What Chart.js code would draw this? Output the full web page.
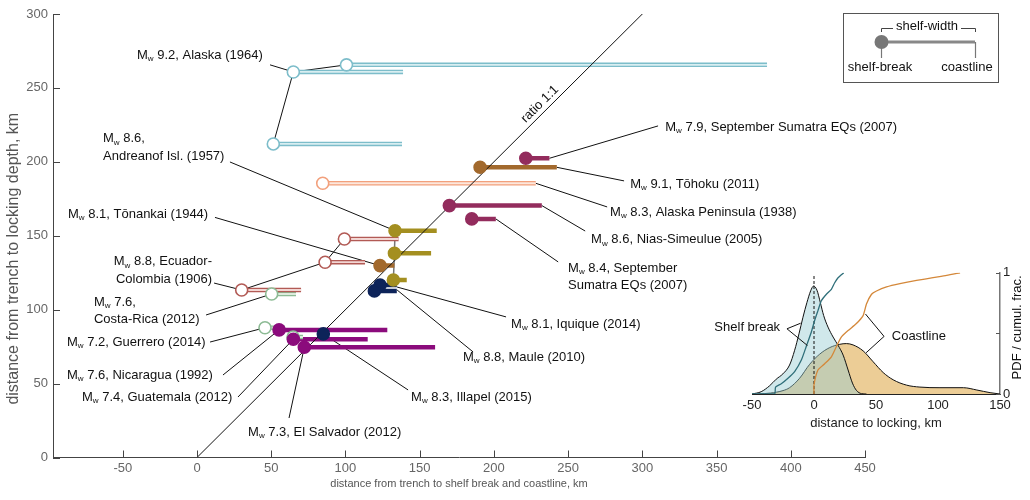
<!DOCTYPE html>
<html>
<head>
<meta charset="utf-8">
<script src="https://cdn.jsdelivr.net/npm/chart.js@4.4.1/dist/chart.umd.min.js"></script>
<style>
  html, body { margin: 0; padding: 0; background: #fff; }
  #wrap { position: relative; width: 1030px; height: 500px; }
  #main { position: absolute; left: 0; top: 0; }
  #inset { position: absolute; left: 690px; top: 262px; }
</style>
</head>
<body>
<div id="wrap">
  <canvas id="main" width="1030" height="500"></canvas>
  <canvas id="inset" width="340" height="175"></canvas>
</div>
<script>
const FONT = "'Liberation Sans', Arial, Helvetica, sans-serif";
Chart.defaults.font.family = FONT;

// ---- main panel: one entry per estimate (km from trench) ----
const quakeGroup = ["alaska", "alaska", "alaska", "akpen", "sumatra", "japan", "sumatra", "sumatra",
                    "aleut", "aleut", "aleut", "japan", "ecuador", "ecuador", "ecuador",
                    "camOpen", "camOpen", "camOpen", "chile", "chile", "cam", "chile", "cam", "cam"];
const shelfBreak = [100.7, 64.9, 51.4, 84.7, 221.5, 190.7, 170.0, 185.1,
                    133.4, 133.0, 132.3, 123.3, 99.3, 86.3, 30.1,
                    50.3, 45.8, 64.7, 123.3, 119.5, 55.3, 85.1, 64.9, 72.3];
const lockDepth  = [265.6, 260.8, 212.1, 185.5, 202.4, 196.3, 170.4, 161.4,
                    153.4, 138.2, 120.1, 129.8, 147.8, 132.1, 113.3,
                    110.6, 87.8, 81.5, 116.7, 112.7, 86.3, 83.6, 80.0, 74.6];
const coastline  = [384.0, 138.8, 138.1, 228.2, 237.4, 242.4, 232.3, 201.3,
                    161.5, 157.7, 141.3, 133.0, 135.8, 113.2, 70.1,
                    66.7, 59.3, 71.4, 134.6, 134.6, 128.2, 85.1, 115.0, 160.4];

// estimates of the same event joined by a thin line (indices into the arrays above)
const linkBlack = [[0, 1], [1, 2], [14, 13], [13, 12]];
const linkGray  = [[8, 9], [9, 10]];

const xTickValues = [-50, 0, 50, 100, 150, 200, 250, 300, 350, 400, 450];
const yTickValues = [0, 50, 100, 150, 200, 250, 300];
const ratioLine = [[0, 0], [320, 320]];
const yTitle = "distance from trench to locking depth, km";

const labelText = [
  "Mw 9.2, Alaska (1964)",
  "Mw 8.6,\nAndreanof Isl. (1957)",
  "Mw 8.1, Tōnankai (1944)",
  "Mw 8.8, Ecuador-\nColombia (1906)",
  "Mw 7.6,\nCosta-Rica (2012)",
  "Mw 7.2, Guerrero (2014)",
  "Mw 7.6, Nicaragua (1992)",
  "Mw 7.4, Guatemala (2012)",
  "Mw 7.3, El Salvador (2012)",
  "Mw 8.3, Illapel (2015)",
  "Mw 8.8, Maule (2010)",
  "Mw 8.1, Iquique (2014)",
  "Mw 8.4, September\nSumatra EQs (2007)",
  "Mw 8.6, Nias-Simeulue (2005)",
  "Mw 8.3, Alaska Peninsula (1938)",
  "Mw 9.1, Tōhoku (2011)",
  "Mw 7.9, September Sumatra EQs (2007)"
];
const labelX = [-40.4, -63.3, -86.9, 10.1, -69.4, -87.6, -87.6, -77.5, 34.4, 144.2, 179.2, 211.6, 250.0, 265.5, 278.3, 291.8, 315.4];
const labelY = [272.3, 215.5, 164.7, 132.3, 105.2, 78.1, 55.8, 40.9, 17.3, 40.9, 68.0, 90.3, 128.2, 147.2, 166.1, 185.0, 223.6];
const labelRight = [false, false, false, true, false, false, false, false, false, false, false, false, false, false, false, false, false];

// leader lines: from near the label to the estimate
const leaderFrom = [[49.2, 265.6], [22.2, 199.9], [12.1, 162.4], [11.5, 118.0], [6.1, 96.4], [8.8, 78.1],
                    [17.5, 55.8], [27.6, 40.9], [62.0, 26.7], [142.2, 45.7], [186.0, 71.4], [208.2, 95.1],
                    [310.6, 224.3], [287.7, 187.1], [276.3, 169.5], [261.5, 153.2], [243.3, 132.3]];
const leaderTo   = [[64.9, 260.8], [133.4, 153.4], [123.3, 129.8], [30.1, 113.3], [50.3, 110.6], [45.8, 87.8],
                    [55.3, 86.3], [64.9, 80.0], [72.3, 74.6], [85.1, 83.6], [134.8, 113.3], [134.8, 115.3],
                    [237.4, 202.4], [242.4, 196.3], [228.2, 185.5], [232.3, 170.4], [201.3, 161.4]];
const ratioLabel = { text: "ratio 1:1", x: 231, y: 239 };

// ---- inset: PDFs and cumulative fractions of distance to locking ----
const sbPdfX = [-50, -42.6, -35.8, -30.5, -25.1, -19.7, -15.6, -12.1, -8.9, -5.7, -2.7, -0.3, 2.4, 5.1, 7.8, 11.3, 15.4, 19.4, 23.5, 27.5, 31.0, 34.2, 38.3, 42.3];
const sbPdfY = [0, 0.019, 0.068, 0.122, 0.166, 0.239, 0.361, 0.497, 0.633, 0.755, 0.851, 0.891, 0.856, 0.755, 0.647, 0.552, 0.47, 0.402, 0.321, 0.198, 0.09, 0.03, 0.003, 0];
const coPdfX = [-45, -35, -25, -19.7, -11.6, -3.5, 4.6, 12.7, 20.8, 26.1, 31.5, 39.6, 47.7, 55.8, 63.9, 74.7, 85.4, 101.6, 120.5, 131.3, 142, 150];
const coPdfY = [0, 0.008, 0.028, 0.052, 0.13, 0.245, 0.329, 0.383, 0.41, 0.416, 0.405, 0.356, 0.266, 0.177, 0.117, 0.073, 0.057, 0.052, 0.052, 0.033, 0.011, 0];
const sbCumX = [-50, -31.8, -31, -26.4, -21, -15.6, -10.2, -6.2, -2.2, 0.5, 3.2, 5.9, 10, 14, 16.7, 19.4, 24];
const sbCumY = [0, 0, 0.057, 0.084, 0.13, 0.185, 0.28, 0.394, 0.51, 0.606, 0.688, 0.769, 0.823, 0.864, 0.918, 0.959, 1];
const coCumX = [0, 0, 3.2, 8.6, 14, 18, 22, 27.5, 34, 39.6, 42.3, 46.4, 50.4, 58.5, 69.3, 82.7, 96, 107, 117.8];
const coCumY = [0, 0.076, 0.198, 0.25, 0.307, 0.39, 0.47, 0.524, 0.579, 0.647, 0.742, 0.823, 0.85, 0.883, 0.91, 0.937, 0.96, 0.978, 1];
const zeroLine = [[0, 0], [0, 0.99]];
const insetXTicks = [-50, 0, 50, 100, 150];
const insetYTicks = [0, 0.5, 1];

const noteText = ["Shelf break", "Coastline"];
const noteX = [-24.9, 60.3];
const noteY = [0.549, 0.476];
const noteArms = [
  [[-21.8, 0.538, -10.8, 0.584], [-21.8, 0.538, -5.3, 0.40]],
  [[56.5, 0.475, 41.5, 0.66], [56.5, 0.475, 42.0, 0.34]]
];

// ---- styles ----
const groupStyle = {
  alaska:  { color: "#7dbdca", inner: "#d8eef1", hollow: true },
  akpen:   { color: "#f2a07c", inner: "#fde7dc", hollow: true },
  ecuador: { color: "#b25a55", inner: "#f2d6d3", hollow: true },
  camOpen: { color: "#8dbb95", inner: "#ddecdd", hollow: true },
  sumatra: { color: "#932c5d" },
  japan:   { color: "#a2692d" },
  aleut:   { color: "#a48f20" },
  chile:   { color: "#0d2359" },
  cam:     { color: "#8b0b7c" }
};

const pts = (xs, ys) => xs.map((x, i) => ({ x, y: ys[i] }));

function seg(ctx, x1, y1, x2, y2) {
  ctx.beginPath(); ctx.moveTo(x1, y1); ctx.lineTo(x2, y2); ctx.stroke();
}

// "Mw ..." with a subscript w
function drawMw(ctx, str, x, y, right) {
  const big = `13px ${FONT}`, small = `8px ${FONT}`;
  const parts = str.startsWith("Mw")
    ? [{ t: "M", f: big, dy: 0 }, { t: "w", f: small, dy: 4 }, { t: str.slice(2), f: big, dy: 0 }]
    : [{ t: str, f: big, dy: 0 }];
  let w = 0;
  parts.forEach(p => { ctx.font = p.f; p.w = ctx.measureText(p.t).width; w += p.w; });
  let cx = right ? x - w : x;
  parts.forEach(p => { ctx.font = p.f; ctx.fillText(p.t, cx, y + p.dy); cx += p.w; });
}

const quakeNotes = {
  id: "quakeNotes",
  beforeDatasetsDraw(chart) {
    const { ctx, scales: { x, y } } = chart;
    ctx.save();
    ctx.lineWidth = 1;
    ctx.strokeStyle = "#111";
    leaderFrom.forEach((a, i) => {
      const b = leaderTo[i];
      seg(ctx, x.getPixelForValue(a[0]), y.getPixelForValue(a[1]), x.getPixelForValue(b[0]), y.getPixelForValue(b[1]));
    });
    const link = (pair) => seg(ctx,
      x.getPixelForValue(shelfBreak[pair[0]]), y.getPixelForValue(lockDepth[pair[0]]),
      x.getPixelForValue(shelfBreak[pair[1]]), y.getPixelForValue(lockDepth[pair[1]]));
    linkBlack.forEach(link);
    ctx.strokeStyle = "#777";
    ctx.lineWidth = 1.5;
    linkGray.forEach(link);
    ctx.restore();
  },
  afterDatasetsDraw(chart) {
    const { ctx, scales: { x, y } } = chart;
    ctx.save();
    ctx.fillStyle = "#111";
    ctx.textAlign = "left";
    ctx.textBaseline = "middle";
    labelText.forEach((txt, i) => {
      const px = x.getPixelForValue(labelX[i]);
      const py = y.getPixelForValue(labelY[i]);
      txt.split("\n").forEach((line, k) => drawMw(ctx, line, px, py + k * 17.5, labelRight[i]));
    });
    // ratio 1:1 label along the diagonal
    const ang = Math.atan2(y.getPixelForValue(300) - y.getPixelForValue(0), x.getPixelForValue(300) - x.getPixelForValue(0));
    ctx.translate(x.getPixelForValue(ratioLabel.x), y.getPixelForValue(ratioLabel.y));
    ctx.rotate(ang);
    ctx.textAlign = "center";
    ctx.font = `13px ${FONT}`;
    ctx.fillText(ratioLabel.text, 0, 0);
    ctx.restore();
  },
  afterDraw(chart) {
    const { ctx, scales: { x, y } } = chart;
    ctx.save();
    // inward tick marks
    ctx.strokeStyle = "#444";
    ctx.lineWidth = 1;
    x.ticks.forEach(t => {
      const px = Math.round(x.getPixelForValue(t.value)) + 0.5;
      seg(ctx, px, x.top, px, x.top - 7);
    });
    y.ticks.forEach(t => {
      const py = Math.round(y.getPixelForValue(t.value)) + 0.5;
      seg(ctx, y.right, py, y.right + 7, py);
    });
    // y axis title, sitting a little below the axis centre as in the source figure
    ctx.save();
    ctx.fillStyle = "#555";
    ctx.font = `16px ${FONT}`;
    ctx.textAlign = "center";
    ctx.textBaseline = "middle";
    ctx.translate(y.left + 14, (y.top + y.bottom) / 2 + 23);
    ctx.rotate(-Math.PI / 2);
    ctx.fillText(yTitle, 0, 0);
    ctx.restore();
    // key box (top right)
    ctx.strokeStyle = "#555";
    ctx.strokeRect(843.5, 13.5, 155, 69);
    ctx.strokeStyle = "#888";
    ctx.lineWidth = 3;
    seg(ctx, 882, 42, 975, 42);
    ctx.strokeStyle = "#777";
    ctx.lineWidth = 1.2;
    seg(ctx, 881.5, 42, 881.5, 58);
    seg(ctx, 975.5, 42, 975.5, 58);
    ctx.strokeStyle = "#444";
    ctx.lineWidth = 1;
    seg(ctx, 881.5, 32, 881.5, 28.5); seg(ctx, 881.5, 28.5, 893, 28.5);
    seg(ctx, 961, 28.5, 975.5, 28.5); seg(ctx, 975.5, 28.5, 975.5, 32);
    ctx.fillStyle = "#777";
    ctx.beginPath(); ctx.arc(881.5, 42, 7, 0, 2 * Math.PI); ctx.fill();
    ctx.fillStyle = "#111";
    ctx.font = `13px ${FONT}`;
    ctx.textAlign = "center";
    ctx.textBaseline = "middle";
    ctx.fillText("shelf-width", 927, 26);
    ctx.fillText("shelf-break", 880, 67);
    ctx.fillText("coastline", 967, 67);
    ctx.restore();
  }
};

const datasets = [];
quakeGroup.forEach((g, i) => {
  const st = groupStyle[g];
  const bar = [{ x: shelfBreak[i], y: lockDepth[i] }, { x: coastline[i], y: lockDepth[i] }];
  datasets.push({ data: bar, showLine: true, borderColor: st.color, borderWidth: 4.5, borderCapStyle: "butt", pointRadius: 0, order: 40 });
  if (st.hollow) {
    datasets.push({ data: bar, showLine: true, borderColor: st.inner, borderWidth: 1.8, borderCapStyle: "butt", pointRadius: 0, order: 30 });
  }
});
datasets.push({
  data: ratioLine.map(p => ({ x: p[0], y: p[1] })), showLine: true,
  borderColor: "#111", borderWidth: 1, pointRadius: 0, order: 25
});
datasets.push({
  data: pts(shelfBreak, lockDepth),
  pointRadius: 6,
  pointBorderWidth: 1.6,
  pointBackgroundColor: quakeGroup.map(g => groupStyle[g].hollow ? "#fff" : groupStyle[g].color),
  pointBorderColor: quakeGroup.map(g => groupStyle[g].color),
  order: 20
});

new Chart(document.getElementById("main"), {
  type: "scatter",
  data: { datasets },
  options: {
    responsive: false,
    animation: false,
    events: [],
    layout: { padding: { top: 14, right: 165, left: 0, bottom: 0 } },
    plugins: { legend: { display: false }, tooltip: { enabled: false } },
    scales: {
      x: {
        type: "linear", min: -97, max: 450,
        afterBuildTicks: s => { s.ticks = xTickValues.map(v => ({ value: v })); },
        afterFit: s => { s.height = 42.5; },
        grid: { display: false, drawTicks: false },
        border: { display: true, color: "#444", width: 1 },
        ticks: { color: "#666", font: { size: 13 }, padding: 3, maxRotation: 0, autoSkip: false },
        title: { display: true, text: "distance from trench to shelf break and coastline, km", color: "#555", font: { size: 11 }, padding: { top: 0, bottom: 9.4 } }
      },
      y: {
        type: "linear", min: 0, max: 300,
        afterBuildTicks: s => { s.ticks = yTickValues.map(v => ({ value: v })); },
        afterFit: s => { s.width = 53; },
        grid: { display: false, drawTicks: false },
        border: { display: true, color: "#444", width: 1 },
        ticks: { color: "#666", font: { size: 13 }, padding: 5, autoSkip: false },
        title: { display: false }
      }
    }
  },
  plugins: [quakeNotes]
});

// ---- inset ----
const insetNotes = {
  id: "insetNotes",
  afterDatasetsDraw(chart) {
    const { ctx, scales: { x, y } } = chart;
    ctx.save();
    ctx.strokeStyle = "#111";
    ctx.lineWidth = 1;
    noteArms.forEach(arms => arms.forEach(a =>
      seg(ctx, x.getPixelForValue(a[0]), y.getPixelForValue(a[1]), x.getPixelForValue(a[2]), y.getPixelForValue(a[3]))));
    ctx.fillStyle = "#111";
    ctx.font = `13px ${FONT}`;
    ctx.textBaseline = "middle";
    noteText.forEach((t, i) => {
      ctx.textAlign = i === 0 ? "right" : "left";
      ctx.fillText(t, x.getPixelForValue(noteX[i]) - (i === 0 ? 3 : -3), y.getPixelForValue(noteY[i]));
    });
    ctx.restore();
  },
  afterDraw(chart) {
    const { ctx, scales: { x, y } } = chart;
    ctx.save();
    ctx.strokeStyle = "#555";
    ctx.lineWidth = 1;
    y.ticks.forEach(t => {
      const py = Math.round(y.getPixelForValue(t.value)) + 0.5;
      seg(ctx, y.left, py, y.left - 4, py);
    });
    ctx.fillStyle = "#111";
    ctx.font = `13px ${FONT}`;
    ctx.textAlign = "center";
    ctx.textBaseline = "middle";
    ctx.translate(y.left + 17, (y.top + y.bottom) / 2 - 6);
    ctx.rotate(-Math.PI / 2);
    ctx.fillText("PDF / cumul. frac.", 0, 0);
    ctx.restore();
  }
};

new Chart(document.getElementById("inset"), {
  type: "scatter",
  data: {
    datasets: [
      { data: pts(coPdfX, coPdfY), showLine: true, fill: "origin", backgroundColor: "rgba(223,172,80,0.6)",
        borderColor: "#111", borderWidth: 1, pointRadius: 0, cubicInterpolationMode: "monotone", order: 5 },
      { data: pts(sbPdfX, sbPdfY), showLine: true, fill: "origin", backgroundColor: "rgba(150,205,210,0.45)",
        borderColor: "#111", borderWidth: 1, pointRadius: 0, cubicInterpolationMode: "monotone", order: 4 },
      { data: zeroLine.map(p => ({ x: p[0], y: p[1] })), showLine: true, borderColor: "#111", borderWidth: 1,
        borderDash: [3, 2], pointRadius: 0, order: 3 },
      { data: pts(sbCumX, sbCumY), showLine: true, borderColor: "#2f6f7a", borderWidth: 1.3, pointRadius: 0, tension: 0.2, order: 2 },
      { data: pts(coCumX, coCumY), showLine: true, borderColor: "#d4883a", borderWidth: 1.3, pointRadius: 0, tension: 0.2, order: 1 }
    ]
  },
  options: {
    responsive: false,
    animation: false,
    events: [],
    layout: { padding: { top: 10, left: 62, right: 0, bottom: 0 } },
    plugins: { legend: { display: false }, tooltip: { enabled: false } },
    scales: {
      x: {
        type: "linear", min: -50, max: 150,
        afterBuildTicks: s => { s.ticks = insetXTicks.map(v => ({ value: v })); },
        afterFit: s => { s.height = 43; },
        grid: { display: false, drawTicks: false },
        border: { display: true, color: "#222", width: 1 },
        ticks: { color: "#222", font: { size: 13 }, padding: 4, maxRotation: 0, autoSkip: false },
        title: { display: true, text: "distance to locking, km", color: "#222", font: { size: 13 }, padding: { top: 0, bottom: 6 } }
      },
      y: {
        type: "linear", position: "right", min: 0, max: 1,
        afterBuildTicks: s => { s.ticks = insetYTicks.map(v => ({ value: v })); },
        afterFit: s => { s.width = 30; },
        grid: { display: false, drawTicks: false },
        border: { display: true, color: "#777", width: 1.5 },
        ticks: { color: "#222", font: { size: 13 }, padding: 3, autoSkip: false, callback: v => (v === 0.5 ? "" : String(v)) }
      }
    }
  },
  plugins: [insetNotes]
});
</script>
</body>
</html>
